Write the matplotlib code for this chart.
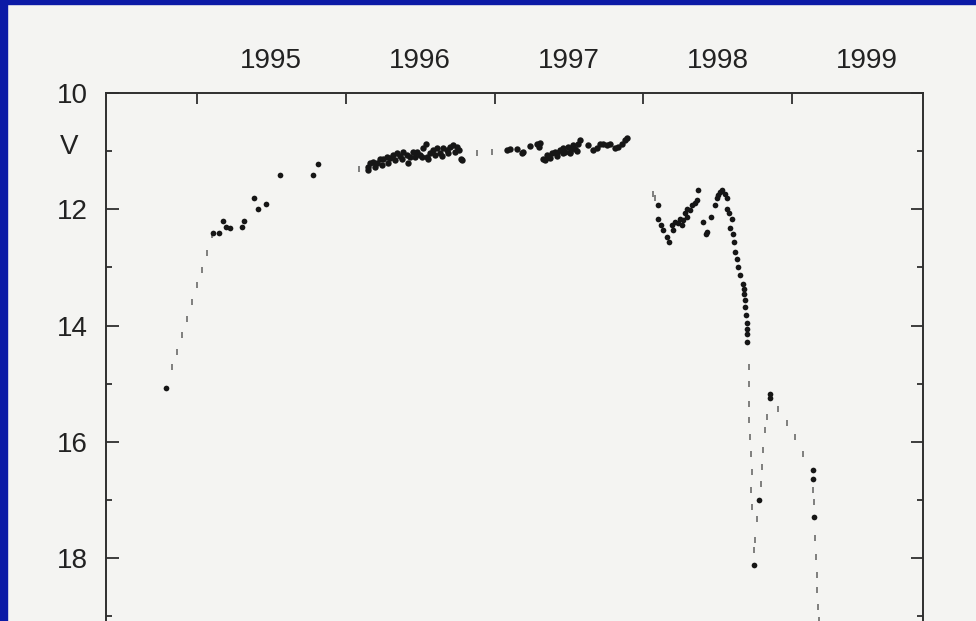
import matplotlib
matplotlib.use("Agg")
import matplotlib.pyplot as plt
from matplotlib.patches import Rectangle
import matplotlib.transforms as mtransforms

plt.rcParams['font.family'] = ['Liberation Sans', 'DejaVu Sans']

# ---------------- data (decimal year, V magnitude) ----------------
rise_dash_year = [1994.830, 1994.863, 1994.897, 1994.930, 1994.964, 1994.998, 1995.032, 1995.065, 1995.099]
rise_dash_v = [14.71, 14.45, 14.17, 13.88, 13.59, 13.31, 13.05, 12.76, 12.45]

rise_dot_year = [1994.790, 1995.106, 1995.150, 1995.175, 1995.195, 1995.222, 1995.305, 1995.314,
                 1995.385, 1995.412, 1995.462, 1995.558, 1995.782, 1995.815]
rise_dot_v = [15.08, 12.40, 12.41, 12.20, 12.31, 12.32, 12.31, 12.20,
              11.81, 12.00, 11.91, 11.41, 11.41, 11.22]

band1_year = [1996.147, 1996.163, 1996.185, 1996.208, 1996.230, 1996.252, 1996.275, 1996.297,
              1996.320, 1996.342, 1996.365, 1996.387, 1996.410, 1996.432, 1996.454, 1996.477,
              1996.499, 1996.521, 1996.537, 1996.544, 1996.566, 1996.589, 1996.611, 1996.634,
              1996.656, 1996.679, 1996.701, 1996.723, 1996.746, 1996.761, 1996.775,
              1996.152, 1996.197, 1996.242, 1996.286, 1996.331, 1996.376, 1996.421, 1996.466,
              1996.510, 1996.555, 1996.600, 1996.645, 1996.690, 1996.734, 1996.780]
band1_v = [11.27, 11.21, 11.18, 11.20, 11.13, 11.14, 11.10, 11.12,
           11.07, 11.04, 11.08, 11.01, 11.06, 11.10, 11.01, 11.01,
           11.07, 10.95, 10.87, 11.10, 11.04, 10.98, 10.95, 11.04,
           10.95, 10.98, 10.93, 10.90, 10.93, 10.98, 11.13,
           11.33, 11.27, 11.23, 11.20, 11.16, 11.13, 11.21, 11.10,
           11.10, 11.13, 11.06, 11.08, 11.04, 11.01, 11.16]

gap_year = [1996.087, 1996.880, 1996.981]
gap_v = [11.30, 11.04, 11.02]

band2_year = [1997.082, 1997.104, 1997.149, 1997.183, 1997.194, 1997.239, 1997.284, 1997.301, 1997.306,
              1997.328, 1997.351, 1997.362, 1997.384, 1997.407, 1997.418, 1997.440, 1997.463,
              1997.474, 1997.496, 1997.508, 1997.519, 1997.530, 1997.541, 1997.563, 1997.575,
              1997.340, 1997.373, 1997.418, 1997.463, 1997.508, 1997.553,
              1997.631, 1997.664, 1997.687, 1997.709, 1997.731, 1997.754, 1997.776, 1997.810,
              1997.832, 1997.855, 1997.877, 1997.888]
band2_v = [10.98, 10.97, 10.97, 11.04, 11.01, 10.91, 10.87, 10.93, 10.86,
           11.13, 11.07, 11.10, 11.03, 11.01, 11.04, 10.98, 10.95,
           11.01, 10.93, 11.01, 10.95, 10.90, 10.97, 10.87, 10.81,
           11.16, 11.11, 11.09, 11.04, 11.04, 11.00,
           10.90, 10.98, 10.95, 10.88, 10.87, 10.90, 10.87, 10.95,
           10.93, 10.88, 10.81, 10.78]

flare_dot_year = [1998.101, 1998.101, 1998.117, 1998.134, 1998.157, 1998.175, 1998.191, 1998.202,
                  1998.213, 1998.236, 1998.247, 1998.258, 1998.269, 1998.281, 1998.292, 1998.292,
                  1998.314, 1998.325, 1998.348, 1998.359, 1998.370, 1998.404, 1998.422, 1998.427,
                  1998.453, 1998.482, 1998.494, 1998.503, 1998.514, 1998.532, 1998.550, 1998.561,
                  1998.565, 1998.578, 1998.595, 1998.583, 1998.601, 1998.612, 1998.617, 1998.628,
                  1998.639, 1998.650, 1998.669, 1998.674, 1998.679, 1998.682, 1998.684, 1998.691,
                  1998.695, 1998.695, 1998.695, 1998.695,
                  1998.747, 1998.780, 1998.850, 1998.853,
                  1999.139, 1999.143, 1999.150]
flare_dot_v = [11.92, 12.16, 12.27, 12.36, 12.47, 12.56, 12.27, 12.36,
               12.22, 12.24, 12.16, 12.27, 12.19, 12.07, 12.13, 11.99,
               12.02, 11.93, 11.90, 11.84, 11.67, 12.22, 12.42, 12.39,
               12.13, 11.93, 11.81, 11.76, 11.70, 11.67, 11.73, 11.81,
               11.99, 12.07, 12.16, 12.33, 12.42, 12.56, 12.73, 12.85,
               12.99, 13.13, 13.28, 13.37, 13.45, 13.56, 13.68, 13.82,
               13.96, 14.05, 14.15, 14.28,
               18.12, 17.00, 15.17, 15.25,
               16.49, 16.63, 17.29]

fade_dash_year = [1998.068, 1998.079,
                  1998.709, 1998.714, 1998.714, 1998.714, 1998.719, 1998.725, 1998.730, 1998.725,
                  1998.732, 1998.751, 1998.747,
                  1998.767, 1998.792, 1998.796, 1998.807, 1998.818, 1998.829,
                  1998.909, 1998.964, 1999.020, 1999.076, 1999.143, 1999.147, 1999.155, 1999.162,
                  1999.166, 1999.170, 1999.177, 1999.180]
fade_dash_v = [11.73, 11.81,
               14.71, 15.00, 15.34, 15.63, 15.91, 16.20, 16.52, 16.83,
               17.12, 17.69, 17.86,
               17.32, 16.72, 16.43, 16.14, 15.80, 15.57,
               15.43, 15.68, 15.91, 16.20, 16.83, 17.03, 17.66, 17.98,
               18.29, 18.55, 18.84, 19.07]

year_ticks = [1995, 1996, 1997, 1998, 1999]
year_labels = ['1995', '1996', '1997', '1998', '1999']
mag_ticks = [10, 12, 14, 16, 18]
mag_labels = ['10', '12', '14', '16', '18']
mag_minor = [11, 13, 15, 17, 19]
axis_name = 'V'

# ---------------- figure ----------------
W, H = 976, 621
bg = '#f4f4f2'
ink = '#161616'
fig = plt.figure(figsize=(W / 100, H / 100), dpi=100, facecolor=bg)

left_px, right_px, top_px = 106, 923, 93
v_top, v_bot = 10, 20
px_per_mag = 58.15
bottom_px = top_px + (v_bot - v_top) * px_per_mag
ax = fig.add_axes([left_px / W, 1 - bottom_px / H, (right_px - left_px) / W, (bottom_px - top_px) / H])
ax.set_facecolor(bg)

x0 = 1995 + (left_px - 197) / 148.75
x1 = 1995 + (right_px - 197) / 148.75
ax.set_xlim(x0, x1)
ax.set_ylim(v_bot, v_top)

dot_kw = dict(linestyle='none', marker='o', ms=4.1, mew=0, color=ink)
band_kw = dict(linestyle='none', marker='o', ms=4.6, mew=0, color=ink)
dash_kw = dict(linestyle='none', marker='|', ms=4.5, mew=1.1, color='#5e5e5e')

ax.plot(rise_dash_year, rise_dash_v, **dash_kw)
ax.plot(rise_dot_year, rise_dot_v, **dot_kw)
ax.plot(gap_year, gap_v, **dash_kw)
ax.plot(band1_year, band1_v, **band_kw)
ax.plot(band2_year, band2_v, **band_kw)
ax.plot(fade_dash_year, fade_dash_v, **dash_kw)
ax.plot(flare_dot_year, flare_dot_v, **dot_kw)

for s in ax.spines.values():
    s.set_color('#2e2e2e')
    s.set_linewidth(1.4)

# x axis: ticks at year boundaries on top, labels centred in the year
ax.xaxis.tick_top()
ax.set_xticks(year_ticks)
ax.set_xticklabels([])
ax.set_xticks([y + 0.5 for y in year_ticks], minor=True)
ax.set_xticklabels(year_labels, minor=True)
ax.tick_params(axis='x', which='major', top=True, bottom=False, direction='in',
               length=8, width=1.3, color='#2e2e2e')
ax.tick_params(axis='x', which='minor', top=True, bottom=False, labeltop=True,
               labelbottom=False, length=0, pad=14, labelsize=20, labelcolor='#222222')

# y axis
ax.set_yticks(mag_ticks)
ax.set_yticklabels(mag_labels)
ax.set_yticks(mag_minor, minor=True)
ax.tick_params(axis='y', which='major', left=True, right=True, direction='in',
               length=9, width=1.3, color='#2e2e2e', pad=13, labelsize=20, labelcolor='#222222')
ax.tick_params(axis='y', which='minor', left=True, right=True, direction='in',
               length=4.5, width=1.3, color='#2e2e2e')

trans = mtransforms.blended_transform_factory(ax.transAxes, ax.transData)
ax.text((69 - left_px) / (right_px - left_px), 10.93, axis_name, transform=trans,
        ha='center', va='center', fontsize=20, color='#222222')

# blue frame (left and top strips)
blue = '#0b1aa6'
fig.add_artist(Rectangle((0, 0), 7 / W, 1, transform=fig.transFigure, color=blue, zorder=10))
fig.add_artist(Rectangle((0, 1 - 4 / H), 1, 4 / H, transform=fig.transFigure, color=blue, zorder=10))

fig.savefig('out.png', dpi=100, facecolor=bg)
